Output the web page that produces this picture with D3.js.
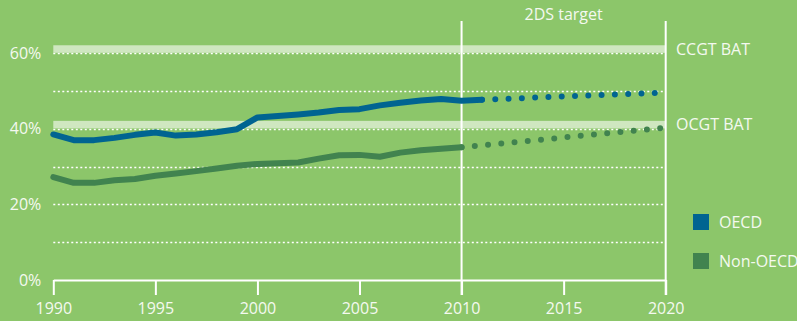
<!DOCTYPE html>
<html>
<head>
<meta charset="utf-8">
<script src="https://cdn.jsdelivr.net/npm/d3@7"></script>
<style>
  html, body { margin: 0; padding: 0; background: #8cc66a; }
  svg { display: block; }
  text { font-family: "Open Sans", sans-serif; fill: #f4f9f0; }
</style>
</head>
<body>
<svg id="chart" width="797" height="321"></svg>
<script>
// Gas-fired plant efficiency, historical and projected
const years = d3.range(1990, 2012);
const oecd = [38.5, 37.0, 37.0, 37.6, 38.4, 39.0, 38.2, 38.5, 39.1, 39.9,
              43.0, 43.4, 43.8, 44.3, 45.0, 45.2, 46.2, 46.9, 47.5, 47.9,
              47.4, 47.7];
const nonOecdYears = d3.range(1990, 2011);
const nonOecd = [27.2, 25.7, 25.7, 26.4, 26.7, 27.6, 28.2, 28.8, 29.5, 30.2,
                 30.7, 30.9, 31.1, 32.1, 33.0, 33.1, 32.6, 33.7, 34.3, 34.7,
                 35.1];
// 2DS target trajectories
const oecdTarget = [[2011, 47.7], [2020, 49.6]];
const nonOecdTarget = [[2010, 35.1], [2020, 40.3]];

const benchmarks = [60, 40];
const benchmarkLabels = ["CCGT BAT", "OCGT BAT"];
const gridValues = [10, 20, 30, 40, 50, 60];
const yTicks = [0, 20, 40, 60];
const xTicks = [1990, 1995, 2000, 2005, 2010, 2015, 2020];
const markerYears = [2010, 2020];
const seriesNames = ["OECD", "Non-OECD"];
const seriesColors = ["#006491", "#41834f"];

const svg = d3.select("#chart");
const x = d3.scaleLinear().domain([1990, 2020]).range([53.3, 665.7]);
const y = d3.scaleLinear().domain([0, 60]).range([280, 53.2]);

// dotted gridlines
svg.append("g").selectAll("line").data(gridValues).join("line")
  .attr("x1", x(1990)).attr("x2", x(2020))
  .attr("y1", d => Math.round(y(d)) + 0.5).attr("y2", d => Math.round(y(d)) + 0.5)
  .attr("stroke", "#ffffff").attr("stroke-width", 1.5)
  .attr("stroke-dasharray", "2 2.5");

// efficiency benchmark bands
svg.append("g").selectAll("rect").data(benchmarks).join("rect")
  .attr("x", x(1990)).attr("width", x(2020) - x(1990))
  .attr("y", d => y(d + 2.1)).attr("height", d => y(d + 0.1) - y(d + 2.1))
  .attr("fill", "#cfe7c0");

svg.append("g").selectAll("text").data(benchmarks).join("text")
  .attr("x", 676).attr("y", d => y(d + 1.1)).attr("dy", "0.35em")
  .attr("font-size", 16)
  .text((d, i) => benchmarkLabels[i]);

// x axis
const xAxis = svg.append("g").attr("transform", "translate(0,280)")
  .call(d3.axisBottom(x).tickValues(xTicks).tickFormat(d3.format("d"))
    .tickSize(15).tickSizeOuter(0).tickPadding(8));
xAxis.select(".domain").attr("stroke", "#ffffff").attr("stroke-width", 2);
xAxis.selectAll(".tick line").attr("stroke", "#ffffff").attr("stroke-width", 2);
xAxis.selectAll(".tick text").attr("font-size", 16).attr("fill", "#f4f9f0")
  .attr("font-family", "Open Sans, sans-serif");

// y axis labels
const yAxis = svg.append("g").attr("transform", `translate(${x(1990)},0)`)
  .call(d3.axisLeft(y).tickValues(yTicks).tickFormat(d => d + "%")
    .tickSize(0).tickPadding(12));
yAxis.select(".domain").remove();
yAxis.selectAll(".tick text").attr("font-size", 16).attr("fill", "#f4f9f0")
  .attr("font-family", "Open Sans, sans-serif");

// 2010 and 2020 markers
svg.append("g").selectAll("line").data(markerYears).join("line")
  .attr("x1", d => x(d)).attr("x2", d => x(d))
  .attr("y1", 21).attr("y2", 295)
  .attr("stroke", "#ffffff").attr("stroke-width", 2);

svg.append("text")
  .attr("x", x(2015)).attr("y", 20).attr("text-anchor", "middle")
  .attr("font-size", 16).text("2DS target");

// series
const line = d3.line().x(d => x(d[0])).y(d => y(d[1]));
const hist = [years.map((yr, i) => [yr, oecd[i]]),
              nonOecdYears.map((yr, i) => [yr, nonOecd[i]])];
const targets = [oecdTarget, nonOecdTarget];

svg.append("g").selectAll("path").data(targets).join("path")
  .attr("d", line).attr("fill", "none")
  .attr("stroke", (d, i) => seriesColors[i])
  .attr("stroke-width", 6).attr("stroke-linecap", "round")
  .attr("stroke-dasharray", "0 13.3");

svg.append("g").selectAll("path").data(hist).join("path")
  .attr("d", line).attr("fill", "none")
  .attr("stroke", (d, i) => seriesColors[i])
  .attr("stroke-width", 6).attr("stroke-linecap", "round")
  .attr("stroke-linejoin", "round");

// legend
const legend = svg.append("g").selectAll("g").data(seriesNames).join("g")
  .attr("transform", (d, i) => `translate(693,${214 + i * 39})`);
legend.append("rect").attr("width", 16).attr("height", 16)
  .attr("fill", (d, i) => seriesColors[i]);
legend.append("text").attr("x", 26).attr("y", 8).attr("dy", "0.35em")
  .attr("font-size", 16).text(d => d);
</script>
</body>
</html>
